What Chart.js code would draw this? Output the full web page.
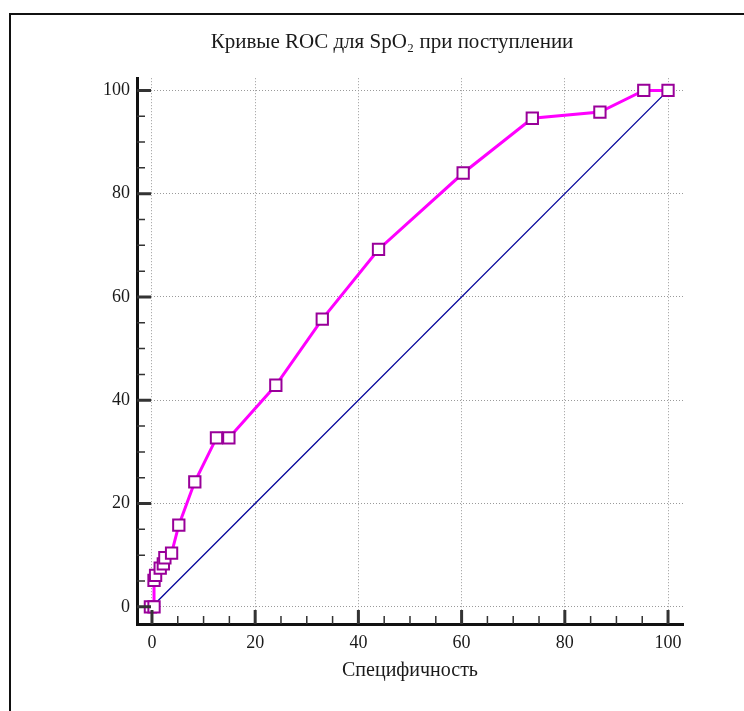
<!DOCTYPE html>
<html>
<head>
<meta charset="utf-8">
<script src="https://cdn.jsdelivr.net/npm/chart.js@4/dist/chart.umd.min.js"></script>
<style>
  html, body { margin: 0; padding: 0; background: #fff; }
  #rocChart { display: block; }
</style>
</head>
<body>
<canvas id="rocChart" width="744" height="711"></canvas>
<script>
(function () {
    'use strict';

    // ---- datos ----
    const specificity = [-0.3, 0.4, 0.4, 0.7, 1.6, 2.2, 2.5, 3.8, 5.2, 8.3, 12.5, 14.9, 24.0, 33.0, 43.9, 60.3, 73.7, 86.8, 95.3, 100];
    const sensitivity = [0, 0, 5.1, 6.1, 7.5, 8.3, 9.5, 10.4, 15.8, 24.2, 32.7, 32.7, 42.9, 55.7, 69.2, 84.0, 94.6, 95.8, 100, 100];
    const diagonalX = [0, 100];
    const diagonalY = [0, 100];
    const majorTicks = [0, 20, 40, 60, 80, 100];
    const minorTicks = [5, 10, 15, 25, 30, 35, 45, 50, 55, 65, 70, 75, 85, 90, 95];

    const SERIF = "'Liberation Serif', 'Times New Roman', serif";
    const TEXT = '#1a1a1a';

    function toPoints(xs, ys) {
        return xs.map((x, i) => ({ x: x, y: ys[i] }));
    }

    // marco y fondo
    const framePlugin = {
        id: 'frame',
        beforeDraw(chart) {
            const ctx = chart.ctx;
            ctx.save();
            ctx.fillStyle = '#ffffff';
            ctx.fillRect(0, 0, chart.width, chart.height);
            ctx.strokeStyle = '#111111';
            ctx.lineWidth = 2;
            ctx.strokeRect(10, 14, 900, 900);
            ctx.restore();
        }
    };

    // marcas de los ejes hacia adentro (mayores y menores)
    const innerTicksPlugin = {
        id: 'innerTicks',
        afterDatasetsDraw(chart) {
            const ctx = chart.ctx;
            const xs = chart.scales.x;
            const ys = chart.scales.y;
            const area = chart.chartArea;
            ctx.save();
            ctx.strokeStyle = '#333333';

            function draw(values, width, len) {
                ctx.lineWidth = width;
                ctx.beginPath();
                values.forEach(v => {
                    const px = xs.getPixelForValue(v);
                    ctx.moveTo(px, area.bottom);
                    ctx.lineTo(px, area.bottom - len);
                    const py = ys.getPixelForValue(v);
                    ctx.moveTo(area.left, py);
                    ctx.lineTo(area.left + len, py);
                });
                ctx.stroke();
            }
            draw(minorTicks, 1.5, 8);
            draw(majorTicks, 3, 14);
            ctx.restore();
        }
    };

    const ctx = document.getElementById('rocChart').getContext('2d');

    new Chart(ctx, {
        type: 'scatter',
        data: {
            datasets: [
                {
                    label: 'SpO2',
                    data: toPoints(specificity, sensitivity),
                    showLine: true,
                    borderColor: '#ff00ff',
                    borderWidth: 3,
                    pointStyle: 'rect',
                    pointRadius: 8,
                    pointBorderWidth: 2,
                    pointBorderColor: '#990099',
                    pointBackgroundColor: '#ffffff',
                    tension: 0,
                    order: 0
                },
                {
                    label: 'diagonal',
                    data: toPoints(diagonalX, diagonalY),
                    showLine: true,
                    borderColor: '#00009a',
                    borderWidth: 1.3,
                    pointRadius: 0,
                    order: 1
                }
            ]
        },
        options: {
            responsive: false,
            devicePixelRatio: 1,
            animation: false,
            events: [],
            layout: {
                // left padding keeps the title centred like the original
                padding: { left: 101, right: 61, top: 0, bottom: 0 }
            },
            plugins: {
                legend: { display: false },
                tooltip: { enabled: false },
                title: {
                    display: true,
                    text: 'Кривые ROC для SpO₂ при поступлении',
                    color: TEXT,
                    font: { family: SERIF, size: 21, weight: 'normal' },
                    padding: { top: 30, bottom: 23 }
                }
            },
            scales: {
                x: {
                    type: 'linear',
                    min: -2.9,
                    max: 102.9,
                    afterBuildTicks(scale) {
                        scale.ticks = majorTicks.map(v => ({ value: v }));
                    },
                    afterFit(scale) {
                        scale.height = 87;
                    },
                    grid: {
                        color: '#9a9a9a',
                        lineWidth: 1,
                        drawTicks: false
                    },
                    border: { display: true, color: '#111111', width: 3, dash: [1, 2] },
                    ticks: {
                        color: TEXT,
                        padding: 8,
                        font: { family: SERIF, size: 18 },
                        maxRotation: 0
                    },
                    title: {
                        display: true,
                        text: 'Специфичность',
                        color: TEXT,
                        font: { family: SERIF, size: 20 },
                        padding: { top: 0, bottom: 28 }
                    }
                },
                y: {
                    type: 'linear',
                    min: -3.33,
                    max: 102.36,
                    afterBuildTicks(scale) {
                        scale.ticks = majorTicks.map(v => ({ value: v }));
                    },
                    afterFit(scale) {
                        scale.width = 36;
                    },
                    grid: {
                        color: '#9a9a9a',
                        lineWidth: 1,
                        drawTicks: false
                    },
                    border: { display: true, color: '#111111', width: 3, dash: [1, 2] },
                    ticks: {
                        color: TEXT,
                        padding: 7,
                        font: { family: SERIF, size: 18 }
                    }
                }
            }
        },
        plugins: [framePlugin, innerTicksPlugin]
    });
})();
</script>
</body>
</html>
